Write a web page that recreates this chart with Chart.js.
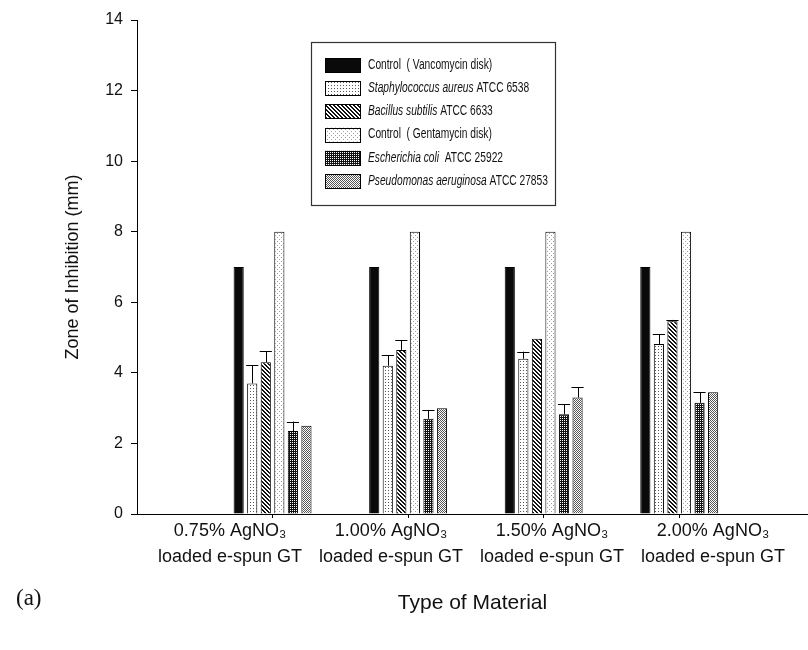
<!DOCTYPE html>
<html>
<head>
<meta charset="utf-8">
<script src="https://cdn.jsdelivr.net/npm/chart.js@4.4.1/dist/chart.umd.min.js"></script>
<style>
  body { margin: 0; background: #fff; }
  #wrap { position: relative; width: 808px; height: 650px; }
  #panel { position: absolute; left: 16px; top: 585px; font-family: "Liberation Serif", "Times New Roman", serif; font-size: 23px; color: #111; }
</style>
</head>
<body>
<div id="wrap">
  <canvas id="chart"></canvas>
  <div id="panel">(a)</div>
</div>
<script>
// categories (x positions 0..3 on the material axis)
const materials = [
    ['0.75% AgNO₃', 'loaded e-spun GT'],
    ['1.00% AgNO₃', 'loaded e-spun GT'],
    ['1.50% AgNO₃', 'loaded e-spun GT'],
    ['2.00% AgNO₃', 'loaded e-spun GT']
];
const materialPos = [0, 1, 2, 3];
// the printed labels sit on a slightly wider spacing than the bar groups
const labelAxisMin = -0.578;
const labelAxisMax = 3.59;

// zone of inhibition (mm) and upper error
const vancomycin = [7, 7, 7, 7];
const staphAureus = [3.7, 4.2, 4.4, 4.82];
const staphErr = [0.52, 0.3, 0.2, 0.28];
const bacillus = [4.3, 4.65, 4.97, 5.46];
const bacillusErr = [0.32, 0.28, 0, 0.04];
const gentamycin = [8, 8, 8, 8];
const eColi = [2.35, 2.7, 2.83, 3.15];
const eColiErr = [0.27, 0.25, 0.28, 0.3];
const pseudomonas = [2.5, 3.0, 3.3, 3.45];
const pseudomonasErr = [0, 0, 0.3, 0];

const yTicks = [0, 2, 4, 6, 8, 10, 12, 14];

// legend text, italic parts flagged
const legendLabels = [
    [['Control  ( Vancomycin disk)', false]],
    [['Staphylococcus aureus', true], [' ATCC 6538', false]],
    [['Bacillus subtilis', true], [' ATCC 6633', false]],
    [['Control  ( Gentamycin disk)', false]],
    [['Escherichia coli', true], ['  ATCC 25922', false]],
    [['Pseudomonas aeruginosa', true], [' ATCC 27853', false]]
];

const FONT = '"Liberation Sans", Arial, "DejaVu Sans", sans-serif';

function makePattern(w, h, bg, fg, cells) {
    const c = document.createElement('canvas');
    c.width = w; c.height = h;
    const g = c.getContext('2d');
    g.fillStyle = bg;
    g.fillRect(0, 0, w, h);
    g.fillStyle = fg;
    cells.forEach(p => g.fillRect(p[0], p[1], 1, 1));
    return g.createPattern(c, 'repeat');
}

const fills = [
    '#0a0a0a',
    makePattern(3, 3, '#ffffff', '#555555', [[1, 1]]),
    makePattern(4, 4, '#ffffff', '#111111', [[0, 0], [1, 1], [2, 2], [3, 3], [1, 0], [2, 1], [3, 2], [0, 3]]),
    makePattern(4, 4, '#ffffff', '#a0a0a0', [[1, 1], [3, 3]]),
    makePattern(2, 2, '#111111', '#ffffff', [[0, 0]]),
    makePattern(2, 2, '#ffffff', '#555555', [[0, 0], [1, 1]])
];

const seriesValues = [vancomycin, staphAureus, bacillus, gentamycin, eColi, pseudomonas];
const seriesErrors = [null, staphErr, bacillusErr, null, eColiErr, pseudomonasErr];

const datasets = seriesValues.map((vals, d) => ({
    label: legendLabels[d].map(s => s[0]).join(''),
    data: materialPos.map((x, i) => ({ x: x, y: vals[i] })),
    errors: seriesErrors[d],
    backgroundColor: fills[d],
    borderColor: '#000',
    borderWidth: 1,
    borderSkipped: 'bottom',
    categoryPercentage: 0.6,
    barPercentage: 0.75
}));

const errorBars = {
    id: 'errorBars',
    afterDatasetsDraw(chart) {
        const ctx = chart.ctx;
        const y = chart.scales.y;
        ctx.save();
        ctx.strokeStyle = '#000';
        ctx.lineWidth = 1;
        chart.data.datasets.forEach((ds, d) => {
            if (!ds.errors) return;
            chart.getDatasetMeta(d).data.forEach((bar, i) => {
                const e = ds.errors[i];
                if (!e) return;
                const top = y.getPixelForValue(seriesValues[d][i] + e);
                const half = bar.width / 2 + 1;
                ctx.beginPath();
                ctx.moveTo(Math.round(bar.x) + 0.5, bar.y);
                ctx.lineTo(Math.round(bar.x) + 0.5, top);
                ctx.moveTo(bar.x - half, Math.round(top) + 0.5);
                ctx.lineTo(bar.x + half, Math.round(top) + 0.5);
                ctx.stroke();
            });
        });
        ctx.restore();
    }
};

const boxLegend = {
    id: 'boxLegend',
    afterDraw(chart) {
        const ctx = chart.ctx;
        const left = 311, top = 42, w = 244, h = 163;
        ctx.save();
        ctx.fillStyle = '#fff';
        ctx.fillRect(left, top, w, h);
        ctx.strokeStyle = '#333';
        ctx.lineWidth = 1.2;
        ctx.strokeRect(left + 0.5, top + 0.5, w, h);
        legendLabels.forEach((parts, i) => {
            const cy = 65 + i * 23.2;
            ctx.fillStyle = fills[i];
            ctx.fillRect(325, cy - 7, 35, 14);
            ctx.strokeStyle = '#000';
            ctx.lineWidth = 1;
            ctx.strokeRect(325.5, Math.round(cy - 7) + 0.5, 35, 14);
            ctx.save();
            ctx.translate(368, cy);
            ctx.scale(0.73, 1);
            ctx.fillStyle = '#111';
            ctx.textBaseline = 'middle';
            let x = 0;
            parts.forEach(p => {
                ctx.font = (p[1] ? 'italic ' : '') + '14px ' + FONT;
                ctx.fillText(p[0], x, 0);
                x += ctx.measureText(p[0]).width;
            });
            ctx.restore();
        });
        ctx.restore();
    }
};

new Chart(document.getElementById('chart'), {
    type: 'bar',
    data: { datasets: datasets },
    options: {
        responsive: true,
        maintainAspectRatio: false,
        animation: false,
        layout: { padding: { top: 20, right: 0, bottom: 0, left: 0 } },
        plugins: {
            legend: { display: false },
            tooltip: { enabled: false }
        },
        scales: {
            x: {
                type: 'linear',
                offset: false,
                min: -1,
                max: 3.95,
                weight: 0,
                afterBuildTicks: s => { s.ticks = materialPos.map(v => ({ value: v })); },
                afterFit: s => { s.height = 4; },
                border: { color: '#000', width: 1 },
                grid: { offset: false, drawOnChartArea: false, drawTicks: true, tickLength: 4, color: '#000' },
                ticks: { display: false }
            },
            xLabels: {
                type: 'linear',
                position: 'bottom',
                offset: false,
                weight: 1,
                min: labelAxisMin,
                max: labelAxisMax,
                afterBuildTicks: s => { s.ticks = materialPos.map(v => ({ value: v })); },
                afterFit: s => { s.height = 132; },
                border: { display: false },
                grid: { display: false },
                ticks: {
                    callback: v => materials[v] || '',
                    padding: -8,
                    maxRotation: 0,
                    autoSkip: false,
                    color: '#111',
                    font: { family: FONT, size: 18, lineHeight: 1.45 }
                },
                title: {
                    display: true,
                    text: 'Type of Material',
                    color: '#111',
                    padding: { top: 0, bottom: 34 },
                    font: { family: FONT, size: 21 }
                }
            },
            y: {
                min: 0,
                max: 14,
                afterBuildTicks: s => { s.ticks = yTicks.map(v => ({ value: v })); },
                afterFit: s => { s.width = 137; },
                border: { color: '#000', width: 1 },
                grid: { drawOnChartArea: false, drawTicks: true, tickLength: 6, color: '#000' },
                ticks: {
                    padding: 8,
                    color: '#111',
                    font: { family: FONT, size: 16 }
                },
                title: {
                    display: true,
                    text: 'Zone of Inhibition (mm)',
                    color: '#111',
                    padding: { top: 62, bottom: 0 },
                    font: { family: FONT, size: 18 }
                }
            }
        }
    },
    plugins: [errorBars, boxLegend]
});
</script>
</body>
</html>
